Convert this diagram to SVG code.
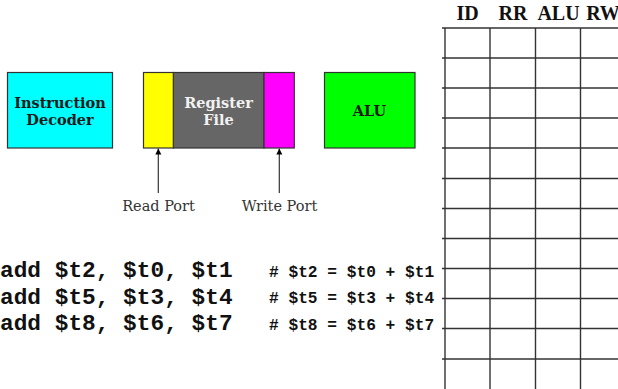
<svg xmlns="http://www.w3.org/2000/svg" width="618" height="389" viewBox="0 0 618 389">
<style>
.box{stroke:#333;stroke-width:1.2}
.lbl{font-family:"DejaVu Serif",serif;font-weight:bold;font-size:14.5px;text-anchor:middle;fill:#1a1a1a}
.port{font-family:"DejaVu Serif",serif;font-size:14.5px;text-anchor:middle;fill:#333}
.hdr{font-family:"Liberation Serif",serif;font-weight:bold;font-size:20px;text-anchor:middle;fill:#111}
.code{font-family:"Liberation Mono",monospace;font-weight:bold;font-size:22.8px;fill:#111}
.cmt{font-family:"Liberation Mono",monospace;font-weight:bold;font-size:16.2px;fill:#111}
.grid line{stroke:#333;stroke-width:1.4}
.arrow{stroke:#333;stroke-width:1.2;fill:none;marker-end:url(#ah)}
</style>
<defs>
<marker id="ah" viewBox="0 0 10 10" refX="10" refY="5" markerWidth="6" markerHeight="10" markerUnits="userSpaceOnUse" orient="auto">
<path d="M0,0 L10,5 L0,10 z" fill="#000"/>
</marker>
</defs>
<rect width="618" height="389" fill="#fff"/>
<g id="instruction-decoder">
<rect class="box" x="7.5" y="72.5" width="105" height="75.5" fill="#00ffff"/>
<text class="lbl" x="60" y="107.5">Instruction</text>
<text class="lbl" x="60" y="124.5">Decoder</text>
</g>
<g id="register-file">
<rect class="box" x="173.3" y="72.5" width="90.7" height="75.5" fill="#666666"/>
<rect class="box" x="143.5" y="72.5" width="29.8" height="75.5" fill="#ffff00"/>
<rect class="box" x="264" y="72.5" width="30.3" height="75.5" fill="#ff00ff"/>
<text class="lbl" x="218.5" y="107.5" style="fill:#f2f2f2">Register</text>
<text class="lbl" x="218.5" y="124.5" style="fill:#f2f2f2">File</text>
</g>
<g id="alu">
<rect class="box" x="324.5" y="72.5" width="90.5" height="75.5" fill="#00ff00"/>
<text class="lbl" x="369.5" y="116">ALU</text>
</g>
<g id="read-port">
<text class="port" x="158.5" y="210.5">Read Port</text>
</g>
<g id="write-port">
<text class="port" x="279.5" y="210.5">Write Port</text>
</g>
<g id="connectors">
<line class="arrow" x1="158.3" y1="193" x2="158.3" y2="148.5"/>
<line class="arrow" x1="279.3" y1="193" x2="279.3" y2="148.5"/>
</g>
<g id="code">
<text class="code" x="0" y="277">add $t2, $t0, $t1</text>
<text class="code" x="0" y="303.5">add $t5, $t3, $t4</text>
<text class="code" x="0" y="330">add $t8, $t6, $t7</text>
<text class="cmt" x="269" y="276.5"># $t2 = $t0 + $t1</text>
<text class="cmt" x="269" y="303"># $t5 = $t3 + $t4</text>
<text class="cmt" x="269" y="329.5"># $t8 = $t6 + $t7</text>
</g>
<g id="pipeline-grid" class="grid">
<text class="hdr" x="467.5" y="19.5">ID</text>
<text class="hdr" x="513" y="19.5">RR</text>
<text class="hdr" x="558.5" y="19.5">ALU</text>
<text class="hdr" x="603" y="19.5">RW</text>
<line x1="442" y1="28" x2="618" y2="28"/>
<line x1="442" y1="58" x2="618" y2="58"/>
<line x1="442" y1="88" x2="618" y2="88"/>
<line x1="442" y1="118" x2="618" y2="118"/>
<line x1="442" y1="148" x2="618" y2="148"/>
<line x1="442" y1="178.5" x2="618" y2="178.5"/>
<line x1="442" y1="208.5" x2="618" y2="208.5"/>
<line x1="442" y1="238.5" x2="618" y2="238.5"/>
<line x1="442" y1="268.5" x2="618" y2="268.5"/>
<line x1="442" y1="298.5" x2="618" y2="298.5"/>
<line x1="442" y1="328.5" x2="618" y2="328.5"/>
<line x1="442" y1="359" x2="618" y2="359"/>
<line x1="445" y1="28" x2="445" y2="389"/>
<line x1="490" y1="28" x2="490" y2="389"/>
<line x1="535.5" y1="28" x2="535.5" y2="389"/>
<line x1="580.5" y1="28" x2="580.5" y2="389"/>
</g>
</svg>
